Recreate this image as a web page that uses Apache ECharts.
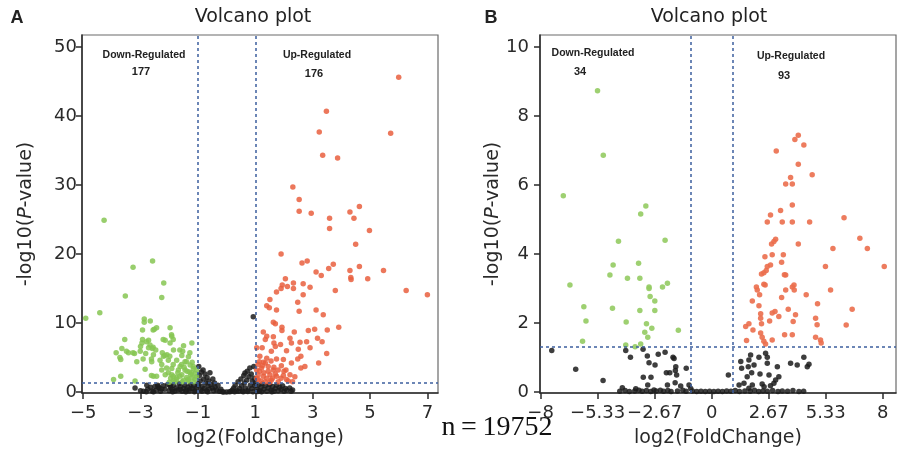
<!DOCTYPE html>
<html>
<head>
<meta charset="utf-8">
<script src="https://cdn.jsdelivr.net/npm/echarts@6/dist/echarts.min.js"></script>
<style>
html, body { margin: 0; padding: 0; background: #fff; }
#volcano-chart { width: 901px; height: 453px; }
</style>
</head>
<body>
<div id="volcano-chart"></div>
<script>
// thresholds: |log2FC| > 1 and p < 0.05
const fcCut = [-1, 1];
const pCut = [1.301];

// ---- panel A ----
const xTicksA = [-5, -3, -1, 1, 3, 5, 7];
const yTicksA = [0, 10, 20, 30, 40, 50];
const countsA = [177, 176];
const downA = [
  [-4.27,24.9],[-4.91,10.7],[-4.42,11.5],[-3.26,18.1],[-2.58,19.0],[-2.19,15.8],[-2.26,13.7],[-3.53,13.9],
  [-2.87,10.6],[-2.87,10.1],[-2.66,10.3],[-1.97,9.3],[-2.93,9.0],[-2.52,9.1],[-1.91,8.1],
  [-3.55,7.6],[-2.93,7.6],[-2.72,7.5],[-2.14,7.5],[-1.97,7.1],[-1.21,7.1],[-2.95,7.1],[-2.67,6.8],
  [-3.85,5.7],[-3.65,6.3],[-3.42,5.7],[-3.21,5.6],[-3.01,5.9],[-2.82,5.6],[-2.59,6.3],[-2.55,5.4],
  [-2.20,5.2],[-2.08,5.4],[-1.85,6.1],[-1.56,5.3],[-1.50,6.7],
  [-3.69,4.7],[-3.13,4.4],[-2.61,4.4],[-2.32,4.6],[-2.03,4.6],[-1.74,4.6],[-1.45,4.4],[-1.33,5.1],[-1.27,3.9],
  [-2.84,3.3],[-2.26,3.2],[-1.91,3.4],[-1.68,3.2],[-1.45,3.2],[-1.16,3.4],
  [-2.55,2.3],[-2.14,2.5],[-1.91,2.5],[-1.74,2.1],[-1.56,2.5],[-1.39,2.1],[-1.21,2.1],[-1.10,2.7],
  [-3.94,1.8],[-3.69,2.3],[-3.19,1.6],[-1.85,1.7],[-1.50,1.7],[-1.33,1.6],
  [-2.44,9.3],[-2.56,9.0],[-2.79,7.3],[-2.72,6.4],[-2.56,6.5],[-2.47,6.1],[-2.91,4.8],[-2.62,4.8],
  [-2.21,7.6],[-1.86,7.6],[-1.92,8.3],[-2.24,5.7],[-2.15,5.3],[-1.98,5.2],[-1.63,6.1],[-1.53,5.9],
  [-2.62,2.4],[-2.44,2.3],[-2.26,4.0],[-2.09,3.5],[-1.86,4.0],[-1.57,4.0],[-1.40,4.4],[-1.28,5.7],
  [-1.16,3.7],[-1.22,2.8],[-1.63,2.3],[-1.86,2.3],[-2.03,2.8],[-1.34,1.8],[-1.74,1.8],
  [-3.0,6.6],[-3.72,5.0],[-3.49,5.9],[-3.26,5.7],
  [-1.62,3.7],[-1.3,2.9],[-1.15,1.5],[-1.05,2.2],[-1.2,4.3],[-1.48,3.6],[-1.7,2.8],[-1.95,2.0],
  [-1.38,3.0],[-1.1,1.9],[-1.25,2.5],[-1.55,1.5],[-1.05,3.2],[-1.8,1.5],[-2.0,1.4]
];
const upA = [
  [6.0,45.6],[3.48,40.7],[3.23,37.7],[5.72,37.5],[3.35,34.3],[3.87,33.9],[2.31,29.7],[2.53,27.9],
  [2.53,26.2],[2.95,25.9],[3.59,25.2],[3.59,23.7],[4.30,26.1],[4.44,25.2],[4.63,26.9],[4.98,23.4],
  [4.50,21.4],[1.90,20.0],[2.63,18.7],[2.81,19.0],[3.56,17.9],[3.72,18.5],[4.30,17.6],[4.63,18.2],
  [5.47,17.6],[4.33,16.6],[4.34,16.3],[4.92,16.4],[3.12,17.4],[3.30,16.9],[2.05,16.4],[1.94,15.5],
  [1.90,15.0],[2.12,15.3],[2.33,15.8],[2.33,15.0],[2.67,15.7],[2.91,15.2],[1.74,14.5],[3.79,14.7],
  [6.26,14.7],[7.0,14.1],[1.51,13.4],[2.67,14.1],[1.40,12.5],[1.49,12.2],[2.48,13.0],[1.74,11.9],
  [2.53,11.7],[3.12,11.9],[3.37,11.2],[1.63,10.1],[1.70,9.9],[1.93,9.4],[1.93,8.9],[3.91,9.4],
  [1.28,8.7],[2.36,8.7],[2.85,8.9],[3.07,9.1],[3.51,9.0],[1.40,8.1],[1.35,7.6],[1.63,8.0],
  [2.21,7.8],[2.56,7.2],[2.79,7.3],[3.17,7.8],[3.33,7.3],[2.26,7.1],[1.05,6.4],[1.24,6.4],
  [1.65,7.1],[1.70,6.6],[1.88,6.9],[1.56,5.9],[2.09,6.0],[2.50,6.2],[2.91,6.4],[2.59,5.2],
  [2.48,4.8],[3.49,5.6],[1.16,5.2],[1.40,4.9],[1.74,4.8],[1.98,4.7],[1.28,4.3],[1.91,3.8],
  [2.26,4.2],[3.21,4.2],[2.59,3.5],[2.73,3.7],[1.05,3.2],[1.22,3.5],[1.45,3.7],[1.63,3.2],
  [1.80,3.2],[2.07,3.2],[1.10,2.5],[1.28,2.3],[1.51,2.5],[1.74,2.3],[1.98,2.4],[2.21,2.5],
  [2.38,2.2],[1.10,1.8],[1.34,1.5],[1.56,1.7],[1.80,1.5],[2.09,1.8],[1.14,4.4],
  [1.15,3.0],[1.3,2.8],[1.45,3.0],[1.6,2.0],[1.2,1.6],[1.4,2.0],[1.7,2.6],[1.9,2.0],[2.0,3.0],
  [1.05,2.0],[1.1,4.0],[1.35,4.2],[1.55,4.5],[1.25,3.8],[1.65,3.6],[2.15,1.6],[2.3,1.5],[1.5,1.4]
];
const nsA = [
  [-3.19,0.6],[-3.0,0.2],[-2.9,0.1],[-2.75,0.4],[-2.6,0.15],[-2.5,0.8],[-2.45,0.3],[-2.35,0.6],
  [-2.3,0.1],[-2.2,0.9],[-2.15,0.4],[-2.05,1.1],[-2.0,0.2],[-1.95,0.7],[-1.9,0.4],[-1.85,1.0],
  [-1.8,0.15],[-1.75,0.6],[-1.7,0.3],[-1.65,1.2],[-1.6,0.8],[-1.55,0.1],[-1.5,0.5],[-1.45,1.0],
  [-1.4,0.3],[-1.35,0.7],[-1.3,0.15],[-1.25,1.1],[-1.2,0.5],[-1.15,0.9],[-1.1,0.2],[-1.05,0.6],
  [-1.0,1.2],[-0.97,3.7],[-0.95,2.4],[-0.92,1.6],[-0.9,0.3],[-0.88,2.9],[-0.85,0.8],[-0.82,3.2],
  [-0.8,1.9],[-0.78,0.5],[-0.75,2.6],[-0.72,1.3],[-0.7,0.2],[-0.68,2.1],[-0.65,0.9],[-0.62,1.6],
  [-0.6,0.4],[-0.58,2.8],[-0.55,1.1],[-0.5,0.6],[-0.48,1.9],[-0.45,0.2],[-0.42,1.3],[-0.4,0.7],
  [-0.35,0.3],[-0.3,1.0],[-0.25,0.1],[-0.2,0.4],[-0.15,0.05],[-0.1,0.02],[0,0.02],[0.1,0.03],[0.15,0.08],
  [-2.8,0.05],[-2.65,0.7],[-2.55,0.05],[-2.4,1.0],[-2.78,1.0],[-2.38,0.77],[-2.26,0.43],[-1.97,1.0],
  [-1.88,0.05],[-1.62,0.35],[-1.42,0.05],[-1.28,0.45],[-1.12,0.05],[-0.98,0.9],[-0.86,0.1],[-0.66,0.05],
  [0.2,0.3],[0.25,0.6],[0.3,1.0],[0.35,0.2],[0.4,1.5],[0.45,0.5],[0.5,1.9],[0.52,0.9],[0.55,0.2],
  [0.6,2.4],[0.62,1.3],[0.64,2.75],[0.66,0.6],[0.7,1.7],[0.72,3.0],[0.75,0.3],[0.78,2.2],[0.81,3.5],
  [0.83,1.0],[0.86,2.6],[0.88,0.5],[0.9,1.6],[0.93,10.9],[0.95,3.7],[0.96,2.0],[0.98,0.9],[1.0,1.3],
  [1.05,0.4],[1.1,1.0],[1.15,0.2],[1.2,0.7],[1.25,1.2],[1.3,0.4],[1.35,0.9],[1.4,0.1],[1.45,0.6],
  [1.5,1.1],[1.55,0.3],[1.6,0.8],[1.65,0.1],[1.7,0.5],[1.75,1.0],[1.8,0.2],[1.85,0.7],[1.9,0.35],
  [1.95,0.9],[2.0,0.1],[2.05,0.5],[2.1,0.25],[2.2,0.6],[2.25,0.1],[2.3,0.3],
  [0.28,0.05],[0.42,0.1],[0.58,0.05],[0.74,0.08],[0.92,0.05],[1.08,0.08],[1.22,0.05],[1.58,0.05]
];

// ---- panel B ----
const xTicksB = [-8, -5.333, -2.667, 0, 2.667, 5.333, 8];
const yTicksB = [0, 2, 4, 6, 8, 10];
const countsB = [34, 93];
const downB = [
  [-5.34,8.73],[-5.07,6.86],[-6.94,5.69],[-6.63,3.10],[-5.98,2.47],[-5.88,2.06],[-6.04,1.47],
  [-4.36,4.37],[-4.61,3.68],[-4.76,3.39],[-4.64,2.43],[-4.0,2.03],[-3.94,3.30],[-3.08,5.39],
  [-3.32,5.16],[-3.42,3.73],[-3.36,3.30],[-2.93,3.04],[-2.88,2.77],[-2.66,2.64],[-2.66,2.36],
  [-3.36,2.36],[-3.05,1.98],[-2.80,1.85],[-3.13,1.73],[-2.99,1.59],[-2.30,3.04],[-2.07,3.15],
  [-2.18,4.40],[-1.56,1.79],[-4.02,1.36],[-3.32,1.39],[-3.58,1.31],[-2.93,3.0]
];
const upB = [
  [4.05,7.44],[3.89,7.32],[4.31,7.16],[3.02,6.99],[4.05,6.60],[4.70,6.30],[3.69,6.22],[3.46,6.03],
  [3.77,6.03],[3.77,5.42],[3.22,5.26],[2.75,5.13],[2.60,4.93],[3.30,4.93],[3.77,4.93],[4.58,4.93],
  [6.19,5.05],[6.93,4.46],[7.28,4.16],[8.07,3.64],[5.67,4.16],[5.32,3.64],[5.56,2.96],[6.57,2.40],
  [6.29,1.94],[2.99,4.43],[2.91,4.36],[2.80,4.29],[4.05,4.29],[2.49,3.92],[2.83,3.98],[3.35,3.98],
  [3.27,3.76],[2.60,3.64],[2.75,3.68],[2.44,3.46],[2.55,3.52],[2.33,3.42],[3.46,3.39],[3.85,3.10],
  [3.77,3.04],[2.44,3.12],[2.09,3.04],[2.13,2.96],[3.46,2.96],[3.86,2.96],[2.24,2.82],[4.42,2.82],
  [3.27,2.74],[1.90,2.64],[4.95,2.56],[2.21,2.50],[3.58,2.40],[2.96,2.33],[2.83,2.29],[2.29,2.27],
  [2.29,2.14],[3.92,2.24],[3.14,2.19],[4.86,2.14],[2.33,1.98],[2.71,2.06],[3.81,2.04],[4.93,1.95],
  [1.59,1.90],[1.74,1.98],[1.93,1.80],[2.29,1.71],[2.36,1.59],[3.41,1.66],[3.77,1.66],[4.86,1.59],
  [1.63,1.49],[2.44,1.47],[2.52,1.39],[2.83,1.51],[5.09,1.51],[5.12,1.42],[3.40,3.40],[2.50,3.10]
];
const nsB = [
  [-7.48,1.20],[-6.36,0.66],[-5.08,0.33],[-4.02,1.20],[-3.80,1.01],[-3.21,1.24],[-3.01,1.04],
  [-2.93,0.85],[-2.65,0.78],[-2.50,1.09],[-2.18,1.15],[-1.81,1.01],[-1.76,0.97],[-1.68,0.73],
  [-1.70,0.62],[-2.12,0.56],[-1.96,0.56],[-1.64,0.49],[-1.19,0.69],[-3.20,0.43],[-2.84,0.43],
  [-2.99,0.20],[-2.07,0.20],[-1.71,0.27],[-1.45,0.17],[-1.06,0.20],[-4.18,0.12],[-3.55,0.09],
  [-2.70,0.06],[-0.98,0.10],
  [-4.3,0.02],[-4.05,0.04],[-3.85,0.01],[-3.6,0.03],[-3.4,0.05],[-3.25,0.02],[-3.05,0.04],[-2.85,0.01],
  [-2.6,0.03],[-2.4,0.05],[-2.25,0.02],[-2.05,0.04],[-1.9,0.01],[-1.6,0.03],[-1.35,0.05],[-1.2,0.02],
  [-0.9,0.03],[-0.7,0.01],[-0.5,0.02],[-0.3,0.01],[-0.1,0.02],[0.1,0.01],[0.3,0.02],[0.5,0.01],[0.7,0.03],
  [0.78,0.49],[1.82,1.07],[1.74,0.93],[1.36,0.88],[1.40,0.69],[1.98,0.78],[1.71,0.73],[2.21,1.01],
  [2.52,1.12],[2.60,1.01],[2.60,0.83],[3.07,0.73],[1.87,0.56],[2.26,0.52],[1.66,0.44],[2.68,0.49],
  [3.14,0.44],[3.69,0.83],[4.0,0.78],[4.31,1.01],[4.47,0.73],[4.55,0.80],[1.28,0.20],[1.51,0.25],
  [1.90,0.20],[2.36,0.23],[2.91,0.25],[2.99,0.35],[1.74,0.11],[2.45,0.15],[2.75,0.18],
  [0.9,0.02],[1.1,0.04],[1.3,0.01],[1.55,0.03],[1.8,0.02],[2.0,0.05],[2.2,0.01],[2.4,0.03],
  [2.6,0.02],[2.85,0.04],[3.1,0.01],[3.3,0.03],[3.55,0.02],[3.8,0.04],[4.08,0.01],[4.3,0.02]
];

function fmtTick(v) {
  const s = String(Math.round(v * 100) / 100);
  return s.replace('-', '\u2212');
}

const font = 'DejaVu Sans';
const axisColor = '#2a2a2a';
const lineDash = { color: '#3d5f9e', type: [3, 3], width: 1.5 };

function xAxisFor(i, min, max, ticks) {
  return {
    type: 'value', gridIndex: i, min: min, max: max,
    name: 'log2(FoldChange)', nameLocation: 'middle', nameGap: 36,
    nameTextStyle: { fontFamily: font, fontSize: 19, color: axisColor },
    axisLine: { show: true, onZero: false, lineStyle: { color: axisColor, width: 1.5 } },
    axisTick: { show: true, length: 6, customValues: ticks, lineStyle: { color: axisColor, width: 1.5 } },
    axisLabel: { customValues: ticks, margin: 11, formatter: fmtTick,
      fontFamily: font, fontSize: 18, color: axisColor },
    splitLine: { show: false }
  };
}

function yAxisFor(i, min, max, ticks, margin, gap) {
  return {
    type: 'value', gridIndex: i, min: min, max: max,
    name: '-log10({i|P}-value)', nameLocation: 'middle', nameGap: gap,
    nameTextStyle: { fontFamily: font, fontSize: 19, color: axisColor,
      rich: { i: { fontFamily: font, fontSize: 19, fontStyle: 'italic', color: axisColor } } },
    axisLine: { show: true, onZero: false, lineStyle: { color: axisColor, width: 1.5 } },
    axisTick: { show: true, length: 6, customValues: ticks, lineStyle: { color: axisColor, width: 1.5 } },
    axisLabel: { customValues: ticks, margin: margin, formatter: fmtTick,
      fontFamily: font, fontSize: 18, color: axisColor },
    splitLine: { show: false }
  };
}

function dots(i, name, data, color, opacity) {
  return {
    name: name, type: 'scatter', xAxisIndex: i, yAxisIndex: i,
    data: data, symbolSize: 5.5, silent: true,
    itemStyle: { color: color, opacity: opacity }
  };
}

function cutLines(i) {
  return {
    type: 'scatter', xAxisIndex: i, yAxisIndex: i, data: [], z: 5,
    markLine: {
      silent: true, symbol: 'none', animation: false,
      label: { show: false }, lineStyle: lineDash,
      data: [{ xAxis: fcCut[0] }, { xAxis: fcCut[1] }, { yAxis: pCut[0] }]
    }
  };
}

function txt(x, y, text, size, weight, family, color) {
  return {
    type: 'text', x: x, y: y, silent: true,
    style: { text: text, align: 'center', verticalAlign: 'middle',
      fontSize: size, fontWeight: weight, fontFamily: family, fill: color || '#222' }
  };
}

const noteFont = 'Liberation Sans Narrow, Liberation Sans';

const chart = echarts.init(document.getElementById('volcano-chart'));
chart.setOption({
  animation: false,
  backgroundColor: '#fff',
  grid: [
    { left: 82, top: 35, width: 356, height: 358, show: true, borderColor: '#6a6a6a', borderWidth: 1.2 },
    { left: 540, top: 35, width: 356, height: 358, show: true, borderColor: '#6a6a6a', borderWidth: 1.2 }
  ],
  xAxis: [
    xAxisFor(0, -5.04, 7.37, xTicksA),
    xAxisFor(1, -8.03, 8.62, xTicksB)
  ],
  yAxis: [
    yAxisFor(0, -0.14, 51.74, yTicksA, 5, 46),
    yAxisFor(1, -0.03, 10.35, yTicksB, 11, 37)
  ],
  series: [
    dots(0, 'not significant', nsA, '#1c1c1c', 0.85),
    dots(0, 'down', downA, '#86c552', 0.85),
    dots(0, 'up', upA, '#e95f3e', 0.85),
    cutLines(0),
    dots(1, 'not significant', nsB, '#1c1c1c', 0.85),
    dots(1, 'down', downB, '#93cb62', 0.9),
    dots(1, 'up', upB, '#eb6e4d', 0.9),
    cutLines(1)
  ],
  graphic: [
    txt(17, 18, 'A', 18, 'bold', 'Liberation Sans'),
    txt(491, 18, 'B', 18, 'bold', 'Liberation Sans'),
    txt(253, 17, 'Volcano plot', 19, 'normal', font),
    txt(709, 17, 'Volcano plot', 19, 'normal', font),
    txt(144, 55, 'Down-Regulated', 10.5, 'bold', noteFont),
    txt(141, 72, String(countsA[0]), 11, 'bold', noteFont),
    txt(317, 55, 'Up-Regulated', 10.5, 'bold', noteFont),
    txt(314, 74, String(countsA[1]), 11, 'bold', noteFont),
    txt(593, 53, 'Down-Regulated', 10.5, 'bold', noteFont),
    txt(580, 72, String(countsB[0]), 11, 'bold', noteFont),
    txt(791, 56, 'Up-Regulated', 10.5, 'bold', noteFont),
    txt(784, 76, String(countsB[1]), 11, 'bold', noteFont),
    txt(497, 428, 'n\u2009=\u200919752', 28, 'normal', 'Liberation Serif', '#111')
  ]
});
</script>
</body>
</html>
